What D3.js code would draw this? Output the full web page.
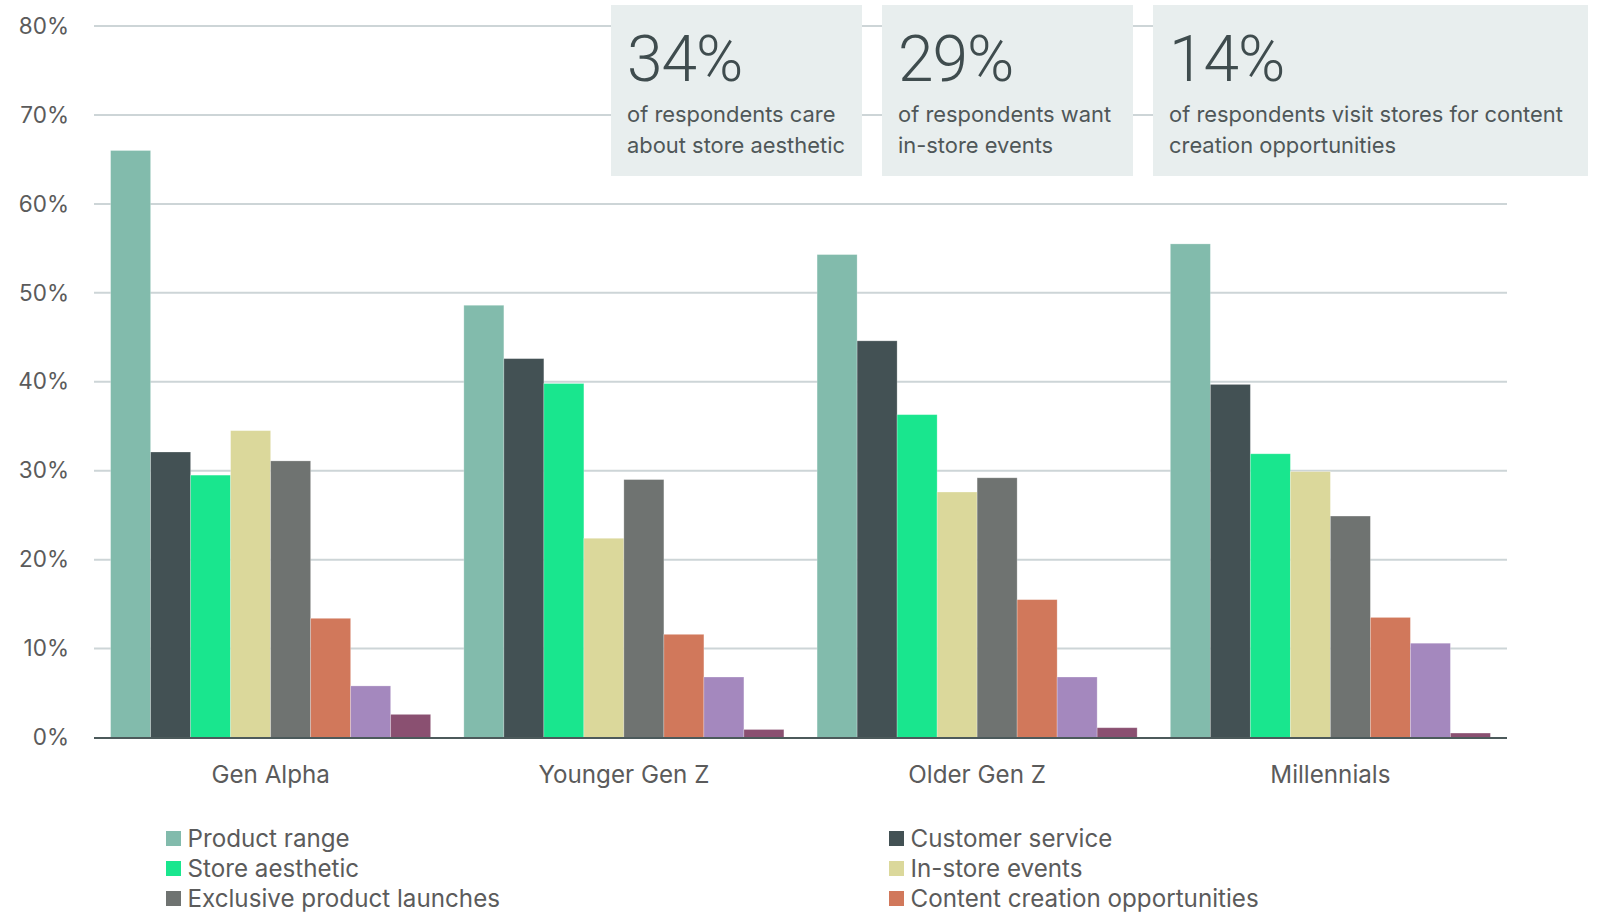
<!DOCTYPE html>
<html>
<head>
<meta charset="utf-8">
<script src="https://cdn.jsdelivr.net/npm/d3@7"></script>
<style>
  html, body { margin: 0; padding: 0; background: #ffffff; }
  svg { display: block; font-family: Inter, Roboto, sans-serif; }
</style>
</head>
<body>
<svg id="chart" width="1598" height="913"></svg>
<script>
// Generations shown along the x axis
const generations = ["Gen Alpha", "Younger Gen Z", "Older Gen Z", "Millennials"];

// Reasons for visiting a store (one bar per reason within each generation)
const reasons = [
  "Product range",
  "Customer service",
  "Store aesthetic",
  "In-store events",
  "Exclusive product launches",
  "Content creation opportunities",
  "Other",
  "None"
];

const reasonColors = ["#82bbac", "#435154", "#19e68e", "#dbd89b", "#6f7371", "#d1785b", "#a488be", "#8a5071"];

// Share of respondents (%) per reason, in generation order
const productRange     = [66.0, 48.6, 54.3, 55.5];
const customerService  = [32.1, 42.6, 44.6, 39.7];
const storeAesthetic   = [29.5, 39.8, 36.3, 31.9];
const inStoreEvents    = [34.5, 22.4, 27.6, 29.9];
const exclusiveLaunch  = [31.1, 29.0, 29.2, 24.9];
const contentCreation  = [13.4, 11.6, 15.5, 13.5];
const otherReason      = [5.8, 6.8, 6.8, 10.6];
const noReason         = [2.6, 0.9, 1.1, 0.5];

const seriesValues = [productRange, customerService, storeAesthetic, inStoreEvents,
                      exclusiveLaunch, contentCreation, otherReason, noReason];

// Y axis ticks (%)
const yTicks = [0, 10, 20, 30, 40, 50, 60, 70, 80];

// Headline callouts
const calloutFigures = ["34%", "29%", "14%"];
const calloutLines = [
  ["of respondents care", "about store aesthetic"],
  ["of respondents want", "in-store events"],
  ["of respondents visit stores for content", "creation opportunities"]
];
const calloutWidths = [251, 251, 435];

const labelFont = "Inter, Roboto, sans-serif";
const svg = d3.select("#chart");
const W = +svg.attr("width"), H = +svg.attr("height");

const plot = { left: 94, right: 1507, top: 26, bottom: 737.5 };

const x0 = d3.scaleBand()
  .domain(generations)
  .range([plot.left, plot.right])
  .paddingInner(0.094)
  .paddingOuter(0.047);

const x1 = d3.scaleBand()
  .domain(reasons)
  .range([0, x0.bandwidth()]);

const y = d3.scaleLinear()
  .domain([0, 80])
  .range([plot.bottom, plot.top]);

const color = d3.scaleOrdinal().domain(reasons).range(reasonColors);

// Horizontal gridlines
svg.append("g")
  .selectAll("line")
  .data(yTicks.filter(t => t > 0))
  .join("line")
  .attr("x1", plot.left)
  .attr("x2", plot.right)
  .attr("y1", d => y(d))
  .attr("y2", d => y(d))
  .attr("stroke", "#cdd5d7")
  .attr("stroke-width", 2);

// Y axis labels
const yAxis = d3.axisLeft(y)
  .tickValues(yTicks)
  .tickFormat(d => d + "%")
  .tickSize(0)
  .tickPadding(25);

svg.append("g")
  .attr("transform", `translate(${plot.left},0)`)
  .call(yAxis)
  .call(g => g.select(".domain").remove())
  .call(g => g.selectAll("text")
    .attr("font-size", 22.5)
    .attr("font-family", labelFont)
    .attr("fill", "#5b5b5b"));

// Bars
const rows = generations.map((g, gi) => ({
  generation: g,
  values: reasons.map((r, ri) => ({ reason: r, value: seriesValues[ri][gi] }))
}));

svg.append("g")
  .selectAll("g")
  .data(rows)
  .join("g")
  .attr("transform", d => `translate(${x0(d.generation)},0)`)
  .selectAll("rect")
  .data(d => d.values)
  .join("rect")
  .attr("x", d => x1(d.reason))
  .attr("width", x1.bandwidth())
  .attr("y", d => y(d.value))
  .attr("height", d => y(0) - y(d.value))
  .attr("fill", d => color(d.reason))
  .attr("stroke", "#ffffff")
  .attr("stroke-opacity", 0.3)
  .attr("stroke-width", 0.8);

// Baseline
svg.append("line")
  .attr("x1", plot.left)
  .attr("x2", plot.right)
  .attr("y1", y(0) + 0.5)
  .attr("y2", y(0) + 0.5)
  .attr("stroke", "#4c5a5b")
  .attr("stroke-width", 2.2);

// Category labels
const xAxis = d3.axisBottom(x0).tickSize(0).tickPadding(28);
svg.append("g")
  .attr("transform", `translate(0,${y(0)})`)
  .call(xAxis)
  .call(g => g.select(".domain").remove())
  .call(g => g.selectAll("text")
    .attr("font-size", 24.2)
    .attr("font-family", labelFont)
    .attr("fill", "#5b5b5b"));

// Callout boxes over the top of the plot
const boxTop = 5, boxHeight = 171, boxGap = 20, firstBoxX = 611;
const boxX = calloutWidths.map((w, i) =>
  firstBoxX + d3.sum(calloutWidths.slice(0, i)) + i * boxGap);

const callouts = svg.append("g")
  .selectAll("g")
  .data(calloutFigures.map((f, i) => ({ figure: f, lines: calloutLines[i], width: calloutWidths[i], x: boxX[i] })))
  .join("g")
  .attr("transform", d => `translate(${d.x},${boxTop})`);

callouts.append("rect")
  .attr("width", d => d.width)
  .attr("height", boxHeight)
  .attr("fill", "#e8eeee");

callouts.append("text")
  .attr("x", 16)
  .attr("y", 76)
  .attr("font-size", 64)
  .attr("font-family", "Roboto, sans-serif")
  .attr("font-weight", 300)
  .attr("letter-spacing", -1)
  .attr("fill", "#3f4c4e")
  .text(d => d.figure);

callouts.each(function (d) {
  d3.select(this).selectAll("text.line")
    .data(d.lines)
    .join("text")
    .attr("class", "line")
    .attr("x", 16)
    .attr("y", (l, i) => 116.7 + i * 31.6)
    .attr("font-size", 21.9)
    .attr("font-family", labelFont)
    .attr("fill", "#4f5758")
    .text(l => l);
});

// Legend: two columns, filled row by row
const legendCols = [166, 889];
const legendTop = 831, legendRow = 30, swatch = 15;
const legendItems = reasons
  .map((r, i) => ({ reason: r, col: i % 2, row: Math.floor(i / 2) }))
  .filter(d => legendTop + d.row * legendRow + swatch <= H);

const legend = svg.append("g")
  .selectAll("g")
  .data(legendItems)
  .join("g")
  .attr("transform", d => `translate(${legendCols[d.col]},${legendTop + d.row * legendRow})`);

legend.append("rect")
  .attr("width", swatch)
  .attr("height", swatch)
  .attr("fill", d => color(d.reason));

legend.append("text")
  .attr("x", 21.5)
  .attr("y", 16.3)
  .attr("font-size", 24.2)
  .attr("font-family", labelFont)
  .attr("fill", "#5b5b5b")
  .text(d => d.reason);
</script>
</body>
</html>
